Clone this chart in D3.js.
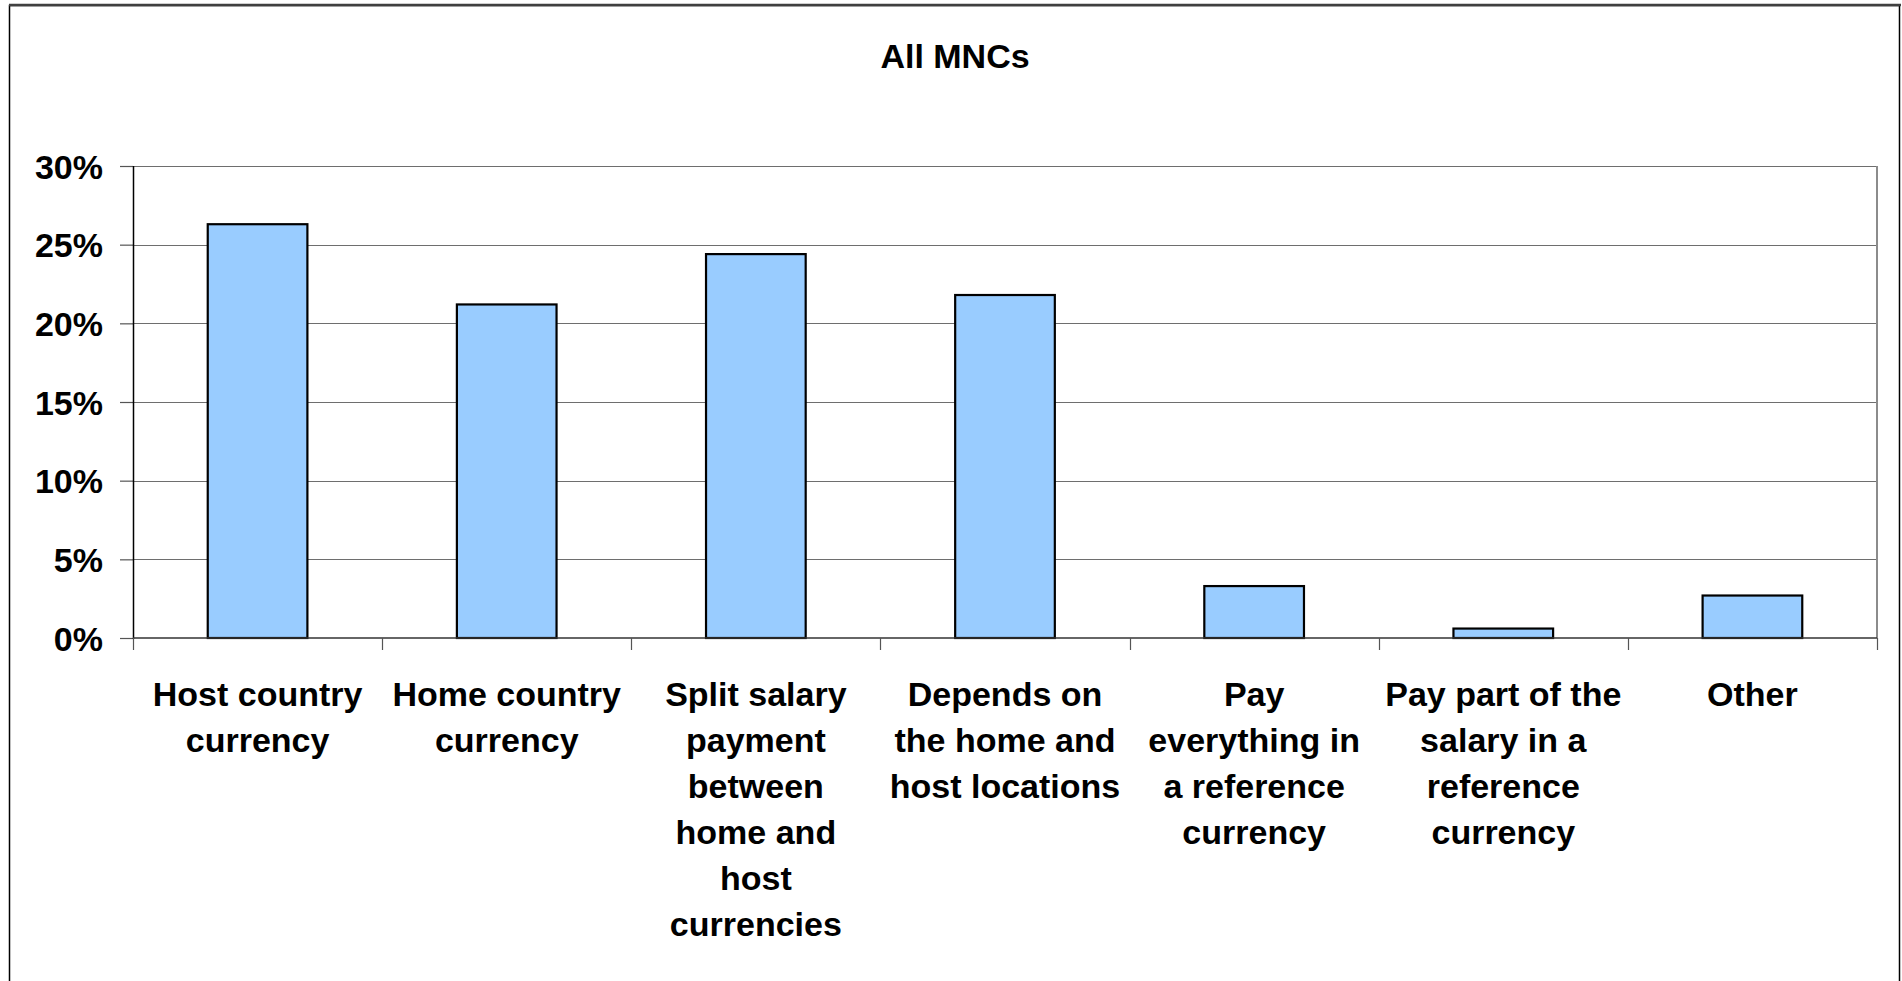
<!DOCTYPE html>
<html lang="en">
<head>
  <meta charset="UTF-8">
  <title>All MNCs</title>
  <style>
      body{
          margin:0;
          background:#fff;
      }
      text{
          font-family:"Liberation Sans", Arial, sans-serif;
          font-weight:bold;
          fill:#000;
      }
      .axis .domain {
          display: none;
      }
  </style>
</head>
<body>
    <svg width="1902" height="981"></svg>
    <script src="https://d3js.org/d3.v7.min.js"></script>
    <script>

        // chart data
        var title = "All MNCs";
        var categories = [
            ["Host country", "currency"],
            ["Home country", "currency"],
            ["Split salary", "payment", "between", "home and", "host", "currencies"],
            ["Depends on", "the home and", "host locations"],
            ["Pay", "everything in", "a reference", "currency"],
            ["Pay part of the", "salary in a", "reference", "currency"],
            ["Other"]
        ];
        var values = [0.263, 0.212, 0.244, 0.218, 0.033, 0.006, 0.027];
        var yTicks = [0, 0.05, 0.10, 0.15, 0.20, 0.25, 0.30];

        var svg = d3.select("svg"),
            margin = {top: 166, right: 25, bottom: 343, left: 133},
            width = 1902 - margin.left - margin.right,
            height = 981 - margin.top - margin.bottom;

        // outer chart frame
        svg.append("rect")
            .attr("x", 9.5).attr("y", 5.5)
            .attr("width", 1890).attr("height", 1000)
            .attr("fill", "#fff")
            .attr("stroke", "#000")
            .attr("stroke-width", 1.5);
        svg.append("line")
            .attr("x1", 9).attr("x2", 1901).attr("y1", 5).attr("y2", 5)
            .attr("stroke", "#404040").attr("stroke-width", 2.5);

        svg.append("text")
            .attr("x", 955).attr("y", 68)
            .attr("text-anchor", "middle")
            .style("font-size", "34px")
            .text(title);

        var g = svg.append("g").attr("transform", "translate(" + margin.left + "," + margin.top + ")");

        var x = d3.scaleBand()
            .domain(d3.range(categories.length))
            .range([0, width])
            .padding(0);

        var y = d3.scaleLinear()
            .domain([0, 0.30])
            .range([height, 0]);

        // gridlines
        g.append("g")
            .selectAll("line")
            .data(yTicks.slice(1))
            .enter().append("line")
            .attr("x1", 0).attr("x2", width)
            .attr("y1", function(d) { return Math.round(y(d)) + 0.5; })
            .attr("y2", function(d) { return Math.round(y(d)) + 0.5; })
            .attr("stroke", "#6e6e6e")
            .attr("stroke-width", 1.2);

        // plot frame right edge
        g.append("line")
            .attr("x1", width).attr("x2", width)
            .attr("y1", 0).attr("y2", height)
            .attr("stroke", "#8c8c8c").attr("stroke-width", 2);

        // bars
        var bw = x.bandwidth() * 0.4;
        g.append("g")
            .selectAll("rect")
            .data(values)
            .enter().append("rect")
            .attr("x", function(d, i) { return x(i) + (x.bandwidth() - bw) / 2; })
            .attr("y", function(d) { return y(d); })
            .attr("width", bw)
            .attr("height", function(d) { return height - y(d); })
            .attr("fill", "#99ccff")
            .attr("stroke", "#000")
            .attr("stroke-width", 2.2);

        // y axis
        var yAxis = g.append("g")
            .attr("class", "axis")
            .call(d3.axisLeft(y)
                .tickValues(yTicks)
                .tickSize(13)
                .tickPadding(17)
                .tickFormat(d3.format(".0%")));
        yAxis.selectAll(".tick line").attr("stroke", "#555").attr("stroke-width", 1.2);
        yAxis.selectAll("text")
            .style("font-size", "34px")
            .attr("dy", "0.36em");
        g.append("line")
            .attr("x1", 0.5).attr("x2", 0.5)
            .attr("y1", 0).attr("y2", height + 1)
            .attr("stroke", "#000").attr("stroke-width", 1.5);

        // x axis: baseline + ticks at category boundaries
        g.append("line")
            .attr("x1", 0).attr("x2", width)
            .attr("y1", height).attr("y2", height)
            .attr("stroke", "#333").attr("stroke-width", 1.5);
        var bounds = d3.range(categories.length + 1).map(function(i) { return i * x.step(); });
        g.append("g")
            .selectAll("line")
            .data(bounds)
            .enter().append("line")
            .attr("x1", function(d) { return Math.round(d) + 0.5; })
            .attr("x2", function(d) { return Math.round(d) + 0.5; })
            .attr("y1", height).attr("y2", height + 12)
            .attr("stroke", "#555").attr("stroke-width", 1.2);

        // category labels, one tspan per line
        var labels = g.append("g")
            .selectAll("text")
            .data(categories)
            .enter().append("text")
            .attr("text-anchor", "middle")
            .attr("transform", function(d, i) { return "translate(" + (x(i) + x.bandwidth() / 2) + "," + (height + 68) + ")"; })
            .style("font-size", "34px");
        labels.selectAll("tspan")
            .data(function(d) { return d; })
            .enter().append("tspan")
            .attr("x", 0)
            .attr("y", function(d, i) { return i * 46; })
            .text(function(d) { return d; });

    </script>
</body>
</html>
